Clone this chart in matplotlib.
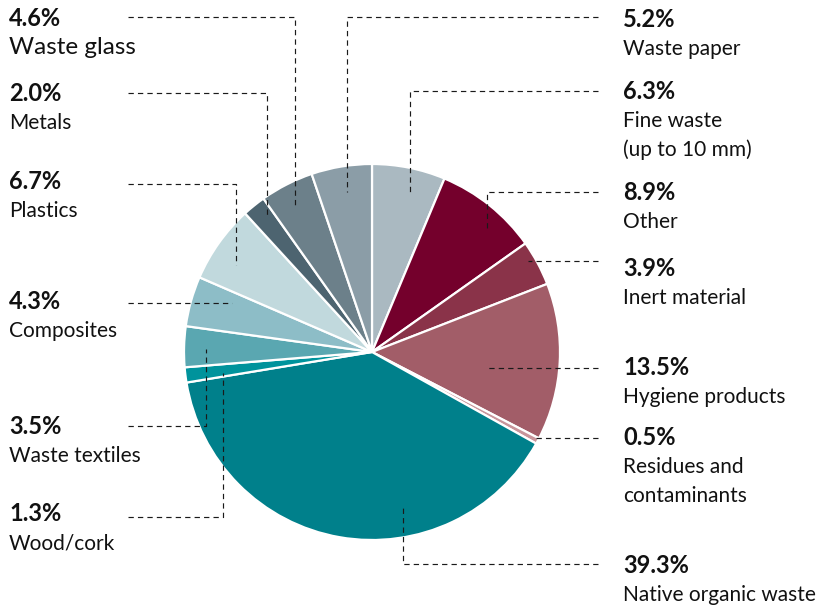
import matplotlib
matplotlib.use('Agg')
import matplotlib.pyplot as plt

# Zusammensetzung Restabfall (Anteile in %), im Uhrzeigersinn ab 12 Uhr
categories = ['Fine waste\n(up to 10 mm)', 'Other', 'Inert material', 'Hygiene products',
              'Residues and\ncontaminants', 'Native organic waste', 'Wood/cork',
              'Waste textiles', 'Composites', 'Plastics', 'Metals', 'Waste glass',
              'Waste paper']
shares = [6.3, 8.9, 3.9, 13.5, 0.5, 39.3, 1.3, 3.5, 4.3, 6.7, 2.0, 4.6, 5.2]

colors = ['#aab9c1', '#74002c', '#8a3349', '#a25d68', '#c8959b', '#00808b',
          '#00939c', '#5aa7b1', '#8dbdc7', '#c1d9dd', '#4d6470', '#6c808a',
          '#8b9da7']

# Beschriftung: Seite, Grundlinie der Zahl, Fuehrungslinie (y, Knick-x, End-y)
lbl = {
    'Waste glass':               ('L', 26,  (17, 295, 205)),
    'Metals':                    ('L', 101, (93, 267, 218)),
    'Plastics':                  ('L', 189, (184, 236, 265)),
    'Composites':                ('L', 309, (303, 232, 303)),
    'Waste textiles':            ('L', 434, (426, 206, 349)),
    'Wood/cork':                 ('L', 521, (517, 223, 373)),
    'Waste paper':               ('R', 27,  (17, 347, 192)),
    'Fine waste\n(up to 10 mm)': ('R', 99,  (91, 410, 192)),
    'Other':                     ('R', 200, (192, 487, 229)),
    'Inert material':            ('R', 276, (261, 528, 261)),
    'Hygiene products':          ('R', 375, (368, 487, 368)),
    'Residues and\ncontaminants':('R', 445, (438, 536, 438)),
    'Native organic waste':      ('R', 573, (564, 403, 508)),
}

W, H = 817, 609
fig = plt.figure(figsize=(W / 100, H / 100), dpi=100)
ax = fig.add_axes([0, 0, 1, 1])

# y-Achse zeigt nach unten -> counterclock=True laeuft am Bildschirm im Uhrzeigersinn
ax.pie(shares, colors=colors, center=(372, 352), radius=188, startangle=-90,
       counterclock=True, wedgeprops=dict(edgecolor='white', linewidth=1.6))
ax.set_xlim(0, W)
ax.set_ylim(H, 0)
ax.set_aspect('equal')
ax.axis('off')

fnt = 'Lato'
for name, val in zip(categories, shares):
    side, yb, (ly, kx, ey) = lbl[name]
    if side == 'L':
        tx, x0 = 9, 128
    else:
        tx, x0 = 623, 598
    ax.plot([x0, kx, kx], [ly, ly, ey], color='#1a1a1a', lw=0.85,
            linestyle=(0, (4.5, 3.5)), zorder=5)
    ax.text(tx, yb, f'{val:.1f}%', fontsize=17, fontweight='bold',
            family=fnt, color='#111111', va='baseline', ha='left')
    fs = 17.5 if name == 'Waste glass' else 15
    for i, line in enumerate(name.split('\n')):
        ax.text(tx, yb + 28 + i * 29, line, fontsize=fs, family=fnt,
                color='#111111', va='baseline', ha='left')

fig.savefig('out.png', dpi=100, facecolor='white')
